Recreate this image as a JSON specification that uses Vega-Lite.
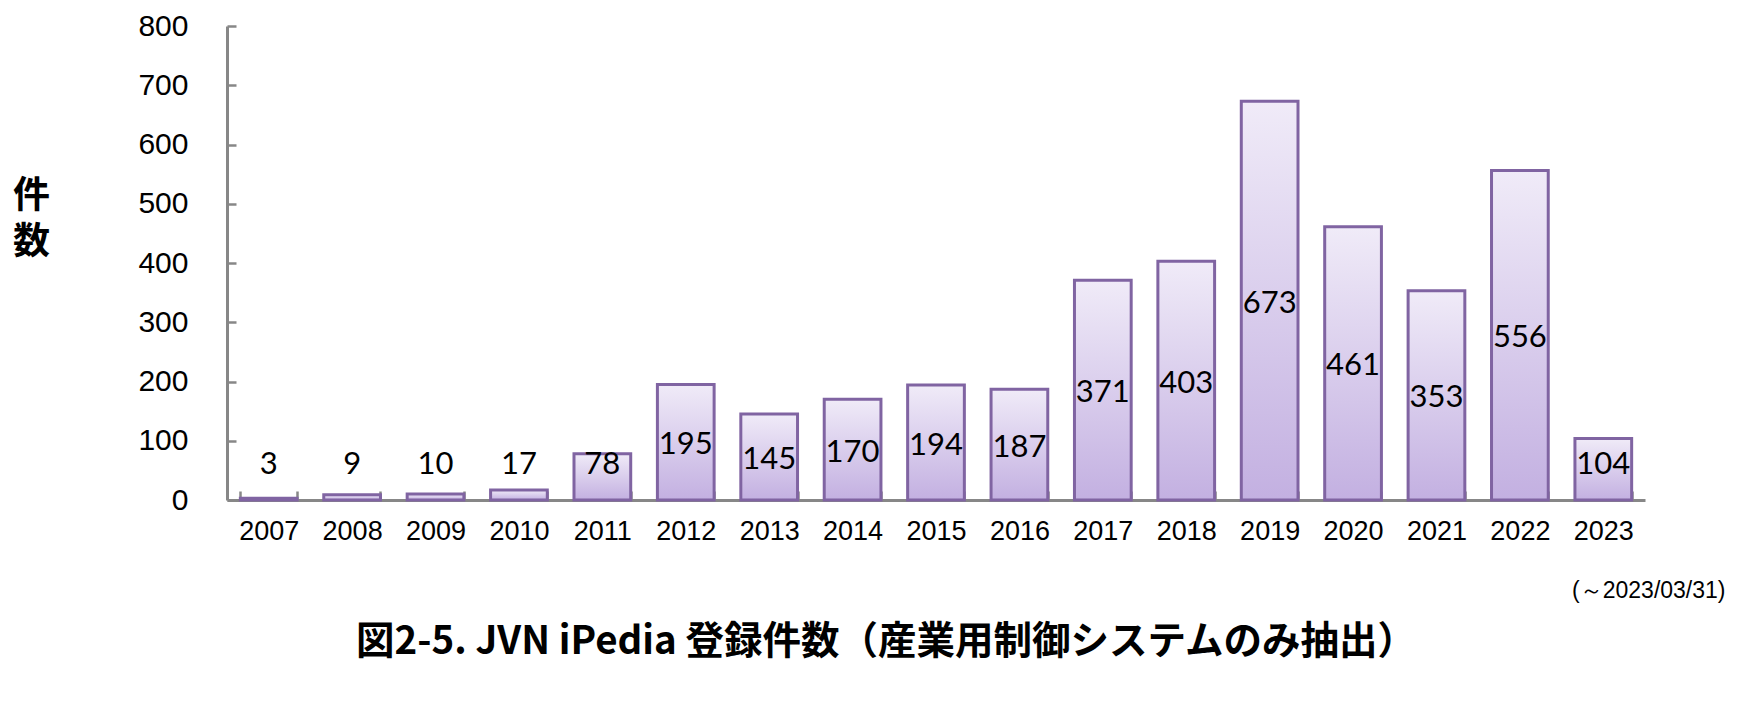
{
  "$schema": "https://vega.github.io/schema/vega-lite/v6.json",
  "width": 1418,
  "height": 474,
  "autosize": "none",
  "padding": {"left": 227, "top": 26, "right": 113, "bottom": 214},
  "background": "white",
  "config": {"view": {"stroke": null}},
  "title": {
    "text": "図2-5. JVN iPedia 登録件数（産業用制御システムのみ抽出）",
    "orient": "bottom",
    "anchor": "middle",
    "dx": -50,
    "offset": 22,
    "font": "Noto Sans CJK JP",
    "fontWeight": "bold",
    "fontSize": 38.5,
    "color": "black"
  },
  "data": {
    "values": [
      {"year": "2007", "count": 3},
      {"year": "2008", "count": 9},
      {"year": "2009", "count": 10},
      {"year": "2010", "count": 17},
      {"year": "2011", "count": 78},
      {"year": "2012", "count": 195},
      {"year": "2013", "count": 145},
      {"year": "2014", "count": 170},
      {"year": "2015", "count": 194},
      {"year": "2016", "count": 187},
      {"year": "2017", "count": 371},
      {"year": "2018", "count": 403},
      {"year": "2019", "count": 673},
      {"year": "2020", "count": 461},
      {"year": "2021", "count": 353},
      {"year": "2022", "count": 556},
      {"year": "2023", "count": 104}
    ]
  },
  "encoding": {
    "x": {
      "field": "year",
      "type": "ordinal",
      "scale": {"paddingInner": 0.32, "paddingOuter": 0.16},
      "axis": {
        "title": "(～2023/03/31)",
        "titleFont": "Liberation Sans",
        "titleFontSize": 23,
        "titleFontWeight": "normal",
        "titleColor": "black",
        "titleAlign": "right",
        "titleAnchor": null,
        "titleX": 1498,
        "titleY": 90,
        "titleBaseline": "middle",
        "labelAngle": 0,
        "labelFont": "Liberation Sans",
        "labelFontSize": 27,
        "labelColor": "black",
        "labelPadding": 40,
        "labelBaseline": "middle",
        "tickBand": "extent",
        "tickSize": -9,
        "tickWidth": 2.5,
        "tickColor": "#878787",
        "domainColor": "#878787",
        "domainWidth": 3
      }
    },
    "y": {
      "field": "count",
      "type": "quantitative",
      "scale": {"domain": [0, 800]},
      "axis": {
        "title": ["件", "数"],
        "titleFont": "Noto Sans CJK JP",
        "titleFontWeight": "bold",
        "titleFontSize": 37,
        "titleLineHeight": 46,
        "titleColor": "black",
        "titleAngle": 0,
        "titleAlign": "center",
        "titleBaseline": "middle",
        "titleX": -196,
        "titleY": 170,
        "values": [0, 100, 200, 300, 400, 500, 600, 700, 800],
        "grid": false,
        "labelFont": "Liberation Sans",
        "labelFontSize": 30,
        "labelColor": "black",
        "labelPadding": 48,
        "tickSize": -9,
        "tickWidth": 2.5,
        "tickColor": "#878787",
        "domainColor": "#878787",
        "domainWidth": 3
      }
    }
  },
  "layer": [
    {
      "mark": {
        "type": "bar",
        "stroke": "#8064A2",
        "strokeWidth": 3,
        "fill": {
          "gradient": "linear",
          "x1": 0, "y1": 0, "x2": 0, "y2": 1,
          "stops": [
            {"offset": 0, "color": "#F0EBF8"},
            {"offset": 1, "color": "#C3B0E1"}
          ]
        }
      }
    },
    {
      "transform": [{"calculate": "max(datum.count / 2, 64)", "as": "labelPos"}],
      "mark": {"type": "text", "font": "Lato", "fontSize": 31, "color": "black", "baseline": "middle", "dy": 3},
      "encoding": {
        "y": {"field": "labelPos", "type": "quantitative"},
        "text": {"field": "count", "type": "quantitative"}
      }
    }
  ]
}
